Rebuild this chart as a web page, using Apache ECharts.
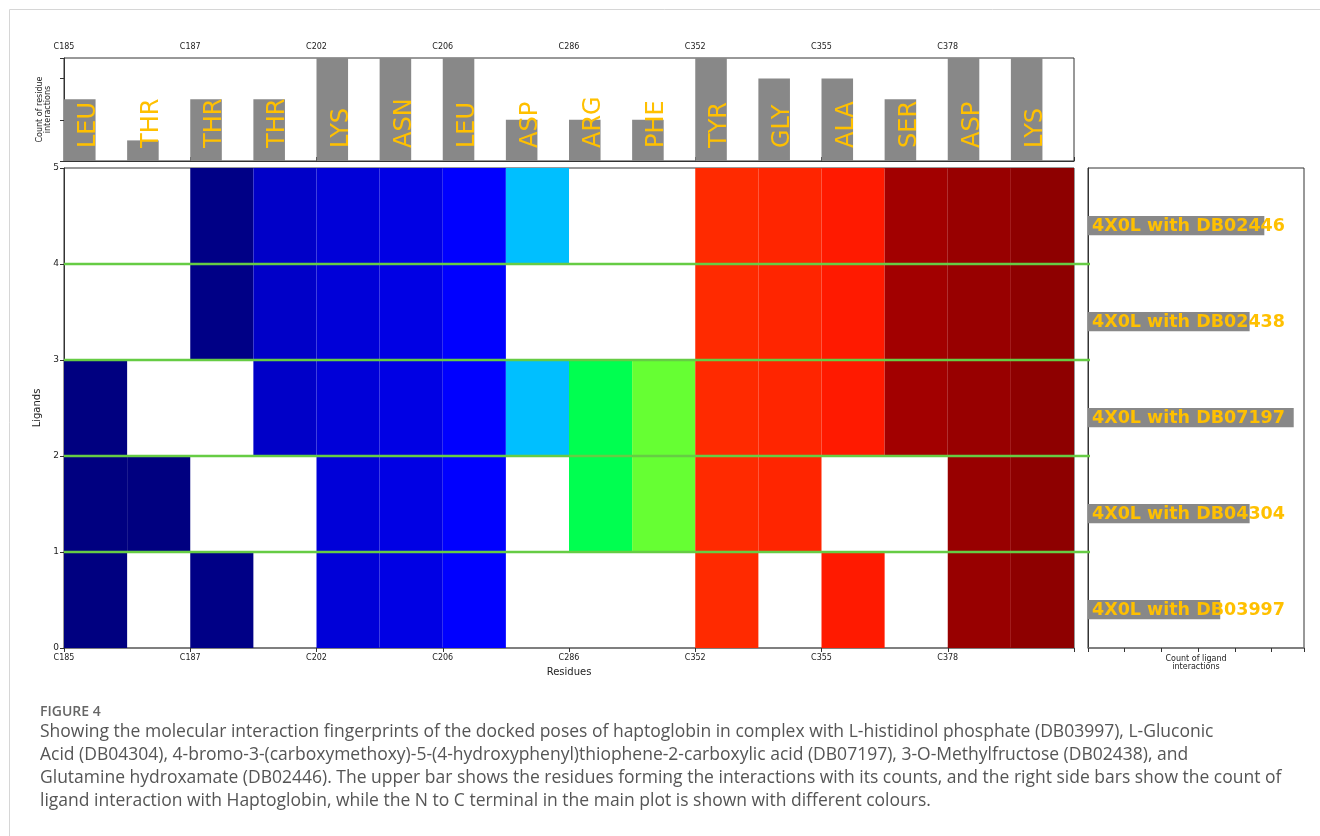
<!DOCTYPE html>
<html><head><meta charset="utf-8">
<script src="https://cdn.jsdelivr.net/npm/echarts@6/dist/echarts.min.js"></script>
<style>html,body{margin:0;padding:0;background:#fff}#chart{width:1320px;height:836px}</style>
</head><body><div id="chart"></div>
<script>
// ---------------- data ----------------
const residues = ['LEU','THR','THR','THR','LYS','ASN','LEU','ASP','ARG','PHE','TYR','GLY','ALA','SER','ASP','LYS'];
const residueCounts = [3,1,3,3,5,5,5,2,2,2,5,4,4,3,5,5];
const residueTickLabels = ['C185','C187','C202','C206','C286','C352','C355','C378',''];
const ligands = ['4X0L with DB03997','4X0L with DB04304','4X0L with DB07197','4X0L with DB02438','4X0L with DB02446'];
const ligandCounts = [9,11,14,11,12];
// interaction fingerprints (1 = interacting residue), one per ligand, bottom row first
const fpDB03997 = [1,0,1,0,1,1,1,0,0,0,1,0,1,0,1,1];
const fpDB04304 = [1,1,0,0,1,1,1,0,1,1,1,1,0,0,1,1];
const fpDB07197 = [1,0,0,1,1,1,1,1,1,1,1,1,1,1,1,1];
const fpDB02438 = [0,0,1,1,1,1,1,0,0,0,1,1,1,1,1,1];
const fpDB02446 = [0,0,1,1,1,1,1,1,0,0,1,1,1,1,1,1];
const residueColors = ['#000080','#000080','#000086','#0000C8','#0000D8','#0000E4','#0000FF','#00BFFF',
                       '#00FF50','#66FF33','#FF2A00','#FF2500','#FF1A00','#A20000','#980000','#8E0000'];
const ligandSeparators = [1,2,3,4];
const captionHeading = 'FIGURE 4';
const captionLines = [
  'Showing the molecular interaction fingerprints of the docked poses of haptoglobin in complex with L-histidinol phosphate (DB03997), L-Gluconic',
  'Acid (DB04304), 4-bromo-3-(carboxymethoxy)-5-(4-hydroxyphenyl)thiophene-2-carboxylic acid (DB07197), 3-O-Methylfructose (DB02438), and',
  'Glutamine hydroxamate (DB02446). The upper bar shows the residues forming the interactions with its counts, and the right side bars show the count of',
  'ligand interaction with Haptoglobin, while the N to C terminal in the main plot is shown with different colours.'
];

// ---------------- build ----------------
const fingerprints = [fpDB03997, fpDB04304, fpDB07197, fpDB02438, fpDB02446];
const cellData = [];
fingerprints.forEach((row, r) => row.forEach((v, c) => { if (v) cellData.push([c, r, c]); }));
const residueBarData = residueCounts.map((v, i) => [i, v, i]);
const ligandBarData = ligandCounts.map((v, i) => [v, i, i]);

const AX = '#333';
const FONT = 'DejaVu Sans';
const GOLD = '#FFC000';

const chart = echarts.init(document.getElementById('chart'), null, {renderer: 'canvas'});

const graphics = [
  {type: 'line', shape: {x1: 9.5, y1: 9.5, x2: 9.5, y2: 836}, style: {stroke: '#d6d6d6', lineWidth: 1}, silent: true},
  {type: 'line', shape: {x1: 9.5, y1: 9.5, x2: 1320, y2: 9.5}, style: {stroke: '#d6d6d6', lineWidth: 1}, silent: true},
  {type: 'text', x: 40, y: 712, style: {text: captionHeading, fontSize: 14, fontWeight: 600, fontFamily: 'Open Sans', fill: '#666', verticalAlign: 'middle'}},
];
captionLines.forEach((t, i) => {
  graphics.push({type: 'text', x: 40, y: 732 + i * 23, style: {text: t, fontSize: 17.5, fontFamily: 'Open Sans', fill: '#555', verticalAlign: 'middle'}});
});

const option = {
  backgroundColor: '#fff',
  animation: false,
  textStyle: {fontFamily: FONT},
  grid: [
    {left: 64, top: 58, width: 1010, height: 103, show: true, borderColor: AX, borderWidth: 1, outerBoundsMode: 'none'},
    {left: 64, top: 168, width: 1010, height: 480, show: true, borderColor: AX, borderWidth: 1, outerBoundsMode: 'none'},
    {left: 1088, top: 168, width: 216, height: 480, show: true, borderColor: AX, borderWidth: 1, outerBoundsMode: 'none'}
  ],
  xAxis: [
    {gridIndex: 0, type: 'value', position: 'top', min: 0, max: 16, interval: 2,
     axisLine: {show: true, lineStyle: {color: AX}}, axisTick: {show: true, length: 4, lineStyle: {color: AX}},
     axisLabel: {fontSize: 8, color: '#222', margin: 7, formatter: v => residueTickLabels[v / 2] || ''},
     splitLine: {show: false}},
    {gridIndex: 1, type: 'value', position: 'bottom', min: 0, max: 16, interval: 2,
     name: 'Residues', nameLocation: 'middle', nameGap: 19, nameTextStyle: {fontSize: 10, color: '#222'},
     axisLine: {show: true, lineStyle: {color: '#777', width: 1.5}}, axisTick: {show: true, length: 4, lineStyle: {color: AX}},
     axisLabel: {fontSize: 8, color: '#222', margin: 6, formatter: v => residueTickLabels[v / 2] || ''},
     splitLine: {show: false}},
    {gridIndex: 2, type: 'value', position: 'bottom', min: 0, max: 14.7, interval: 2.5,
     name: 'Count of ligand\ninteractions', nameLocation: 'middle', nameGap: 7,
     nameTextStyle: {fontSize: 8, color: '#222', lineHeight: 8, verticalAlign: 'top'},
     axisLine: {show: true, lineStyle: {color: '#777', width: 1.5}}, axisTick: {show: true, length: 4, lineStyle: {color: AX}},
     axisLabel: {show: false}, splitLine: {show: false}}
  ],
  yAxis: [
    {gridIndex: 0, type: 'value', min: 0, max: 5, interval: 2,
     name: 'Count of residue\ninteractions', nameLocation: 'middle', nameGap: 12,
     nameTextStyle: {fontSize: 8, color: '#222', lineHeight: 8},
     axisLine: {show: true, lineStyle: {color: AX}}, axisTick: {show: true, length: 4, lineStyle: {color: AX}},
     axisLabel: {show: false}, splitLine: {show: false}},
    {gridIndex: 1, type: 'value', min: 0, max: 5, interval: 1,
     name: 'Ligands', nameLocation: 'middle', nameGap: 18, nameTextStyle: {fontSize: 10, color: '#222'},
     axisLine: {show: true, lineStyle: {color: AX}}, axisTick: {show: true, length: 4, lineStyle: {color: AX}},
     axisLabel: {fontSize: 9, color: '#222', margin: 5}, splitLine: {show: false}},
    {gridIndex: 2, type: 'value', min: 0, max: 5, interval: 1,
     axisLine: {show: true, lineStyle: {color: AX}}, axisTick: {show: false},
     axisLabel: {show: false}, splitLine: {show: false}}
  ],
  series: [
    {
      type: 'custom', name: 'fingerprint', xAxisIndex: 1, yAxisIndex: 1, data: cellData,
      renderItem: (params, api) => {
        const c = api.value(0), r = api.value(1);
        const p0 = api.coord([c, r + 1]), p1 = api.coord([c + 1, r]);
        return {type: 'rect', shape: {x: p0[0], y: p0[1], width: p1[0] - p0[0], height: p1[1] - p0[1]},
                style: {fill: residueColors[api.value(2)]}};
      }
    },
    {
      type: 'custom', name: 'separators', xAxisIndex: 1, yAxisIndex: 1, clip: false,
      data: ligandSeparators.map(v => [0, v]),
      renderItem: (params, api) => {
        const a = api.coord([0, api.value(1)]), b = api.coord([16, api.value(1)]);
        return {type: 'line', shape: {x1: a[0], y1: a[1], x2: b[0] + 16, y2: b[1]},
                style: {stroke: '#66CC44', lineWidth: 2.5}, z2: 10};
      }
    },
    {
      type: 'custom', name: 'residue counts', xAxisIndex: 0, yAxisIndex: 0, data: residueBarData,
      renderItem: (params, api) => {
        const i = api.value(0);
        const p0 = api.coord([i, api.value(1)]), p1 = api.coord([i + 0.5, 0]);
        const base = api.coord([i + 0.25, 0]);
        return {type: 'group', children: [
          {type: 'rect', shape: {x: p0[0], y: p0[1], width: p1[0] - p0[0], height: p1[1] - p0[1]}, style: {fill: '#888888'}},
          {type: 'text', x: base[0] + 9, y: base[1] - 13, rotation: Math.PI / 2,
           style: {text: residues[api.value(2)], fontSize: 24, fontFamily: FONT, fill: GOLD, align: 'left', verticalAlign: 'middle'}}
        ]};
      }
    },
    {
      type: 'custom', name: 'ligand counts', xAxisIndex: 2, yAxisIndex: 2, data: ligandBarData,
      renderItem: (params, api) => {
        const r = api.value(1);
        const p0 = api.coord([0, r + 0.5]), p1 = api.coord([api.value(0), r + 0.3]);
        const mid = api.coord([0, r + 0.4]);
        return {type: 'group', children: [
          {type: 'rect', shape: {x: p0[0], y: p0[1], width: p1[0] - p0[0], height: p1[1] - p0[1]}, style: {fill: '#888888'}},
          {type: 'text', x: mid[0] + 4, y: mid[1] + 1,
           style: {text: ligands[api.value(2)], fontSize: 17.5, fontWeight: 'bold', fontFamily: FONT, fill: GOLD, align: 'left', verticalAlign: 'middle'}}
        ]};
      }
    }
  ],
  graphic: graphics
};
chart.setOption(option);
</script></body></html>
